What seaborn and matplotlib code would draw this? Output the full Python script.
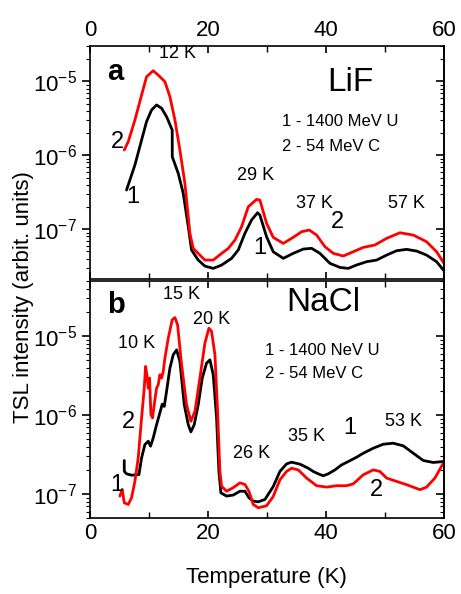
import numpy as np
import pandas as pd
import seaborn as sns
import matplotlib.pyplot as plt
from matplotlib.ticker import LogLocator, NullFormatter, MultipleLocator

# ---- LiF (panel a) ----
lif_t1 = [6.21, 7.63, 8.76, 9.60, 10.45, 11.30, 12.15, 13.00, 13.95, 13.96, 14.97, 15.82, 16.67,
          17.23, 18.36, 19.49, 20.90, 22.32, 24.01, 25.14, 26.27, 27.40, 28.42, 28.81, 29.94,
          31.07, 32.77, 34.46, 36.16, 37.57, 38.98, 40.68, 42.37, 43.79, 45.20, 46.89, 48.59,
          50.28, 51.98, 53.67, 55.37, 57.06, 58.76, 60.0]
lif_i1 = [3.39e-7, 7.40e-7, 1.61e-6, 2.86e-6, 4.11e-6, 4.81e-6, 4.34e-6, 3.33e-6, 2.20e-6, 9.57e-7,
          5.70e-7, 3.05e-7, 1.08e-7, 5.21e-8, 3.81e-8, 3.16e-8, 2.94e-8, 3.26e-8, 4.02e-8, 5.21e-8,
          8.77e-8, 1.33e-7, 1.67e-7, 1.55e-7, 7.89e-8, 4.94e-8, 4.02e-8, 4.70e-8, 5.37e-8, 5.50e-8,
          4.70e-8, 3.44e-8, 3.03e-8, 2.94e-8, 3.27e-8, 3.62e-8, 3.81e-8, 4.45e-8, 5.10e-8, 5.32e-8,
          5.05e-8, 4.45e-8, 3.62e-8, 2.74e-8]
lif_t2 = [5.82, 6.50, 7.63, 8.76, 9.60, 10.73, 11.58, 12.71, 13.56, 14.41, 15.25, 16.10, 16.95,
          17.51, 18.36, 19.49, 20.90, 22.32, 23.45, 24.58, 25.71, 26.84, 28.25, 28.81, 29.94,
          31.07, 32.77, 34.46, 35.88, 37.17, 38.42, 39.83, 41.24, 42.94, 44.63, 46.33, 48.31,
          50.28, 52.54, 54.80, 57.06, 58.76, 60.0]
lif_i2 = [1.18e-6, 1.53e-6, 3.01e-6, 6.56e-6, 1.16e-5, 1.40e-5, 1.22e-5, 9.95e-6, 6.22e-6, 3.01e-6,
          1.18e-6, 4.17e-7, 8.77e-8, 5.48e-8, 4.69e-8, 3.81e-8, 3.81e-8, 4.69e-8, 5.48e-8, 7.11e-8,
          1.08e-7, 2.01e-7, 2.53e-7, 2.48e-7, 1.20e-7, 7.74e-8, 6.41e-8, 7.74e-8, 9.23e-8, 9.73e-8,
          8.32e-8, 5.78e-8, 4.70e-8, 4.33e-8, 4.94e-8, 5.66e-8, 6.10e-8, 7.50e-8, 8.93e-8, 8.32e-8,
          6.75e-8, 4.94e-8, 3.44e-8]

# ---- NaCl (panel b) ----
nacl_t1 = [5.82, 5.83, 6.21, 7.06, 8.31, 8.76, 9.32, 9.89, 10.28, 10.73, 11.30, 11.86, 12.26, 12.60,
           12.99, 13.56, 14.12, 14.69, 15.25, 15.99, 16.67, 17.12, 17.68, 18.36, 19.04, 19.77,
           20.34, 20.90, 21.47, 21.86, 22.20, 23.16, 24.29, 25.42, 26.27, 26.95, 27.68, 28.53,
           29.66, 31.07, 32.20, 33.33, 34.18, 35.59, 37.01, 37.85, 38.70, 39.55, 40.40, 41.53,
           42.66, 43.79, 45.20, 46.33, 48.02, 49.72, 51.41, 53.11, 54.80, 56.50, 58.19, 59.89]
nacl_i1 = [2.67e-7, 1.95e-7, 1.81e-7, 1.74e-7, 1.77e-7, 2.88e-7, 4.25e-7, 4.68e-7, 4.05e-7, 5.15e-7,
           7.59e-7, 1.07e-6, 1.38e-6, 1.29e-6, 2.00e-6, 3.94e-6, 5.81e-6, 6.71e-6, 4.79e-6, 1.36e-6,
           7.59e-7, 6.14e-7, 7.59e-7, 1.36e-6, 2.95e-6, 4.56e-6, 5.02e-6, 3.25e-6, 9.23e-7, 1.95e-7,
           1.04e-7, 9.46e-8, 9.75e-8, 1.09e-7, 1.09e-7, 9.02e-8, 8.17e-8, 8.01e-8, 8.57e-8, 1.25e-7,
           1.94e-7, 2.42e-7, 2.54e-7, 2.40e-7, 2.13e-7, 1.94e-7, 1.81e-7, 1.71e-7, 1.81e-7, 2.03e-7,
           2.35e-7, 2.59e-7, 2.94e-7, 3.30e-7, 3.82e-7, 4.29e-7, 4.42e-7, 4.09e-7, 3.30e-7, 2.67e-7,
           2.52e-7, 2.59e-7]
nacl_t2 = [5.08, 5.48, 5.82, 6.50, 7.06, 7.63, 8.19, 8.76, 9.21, 9.44, 9.66, 9.89, 10.11, 10.34,
           10.62, 10.90, 11.30, 11.58, 11.86, 12.15, 12.43, 12.71, 13.28, 13.95, 14.41, 14.86,
           15.54, 16.38, 17.12, 17.80, 18.64, 19.49, 20.17, 20.62, 21.19, 21.64, 22.03, 22.32,
           23.16, 24.29, 25.42, 26.27, 26.95, 27.68, 28.53, 29.94, 31.07, 32.20, 33.33, 34.18,
           35.31, 36.72, 38.42, 40.11, 41.81, 43.50, 44.63, 46.33, 48.02, 49.15, 50.28, 51.98,
           53.67, 55.93, 57.06, 58.47, 59.89]
nacl_i2 = [9.46e-8, 1.15e-7, 7.78e-8, 7.41e-8, 9.02e-8, 1.46e-7, 2.88e-7, 9.23e-7, 2.20e-6, 4.14e-6,
           3.25e-6, 2.20e-6, 2.95e-6, 1.02e-6, 9.23e-7, 1.36e-6, 2.20e-6, 2.43e-6, 3.25e-6, 2.95e-6,
           3.58e-6, 5.27e-6, 9.44e-6, 1.61e-5, 1.72e-5, 1.39e-5, 4.35e-6, 1.36e-6, 8.37e-7, 1.12e-6,
           2.95e-6, 8.16e-6, 1.26e-5, 1.15e-5, 5.81e-6, 1.12e-6, 1.95e-7, 1.26e-7, 1.09e-7, 1.21e-7,
           1.39e-7, 1.33e-7, 1.09e-7, 7.41e-8, 6.73e-8, 7.14e-8, 9.36e-8, 1.52e-7, 1.94e-7, 2.13e-7,
           2.03e-7, 1.60e-7, 1.28e-7, 1.23e-7, 1.28e-7, 1.28e-7, 1.35e-7, 1.76e-7, 2.03e-7, 1.94e-7,
           1.60e-7, 1.45e-7, 1.32e-7, 1.14e-7, 1.23e-7, 1.60e-7, 2.47e-7]

sns.set_style("ticks")
plt.rcParams['font.family'] = ['Liberation Sans', 'DejaVu Sans']
plt.rcParams['mathtext.fontset'] = 'custom'
plt.rcParams['mathtext.rm'] = 'Liberation Sans'
plt.rcParams['mathtext.it'] = 'Liberation Sans:italic'
plt.rcParams['axes.linewidth'] = 1.2
for k in ['text.color', 'axes.labelcolor', 'axes.edgecolor', 'xtick.color', 'ytick.color']:
    plt.rcParams[k] = 'black'

fig = plt.figure(figsize=(4.61, 5.94), dpi=100)
ax1 = fig.add_axes([0.195, 0.530, 0.768, 0.393])
ax2 = fig.add_axes([0.195, 0.128, 0.768, 0.399])

def draw(ax, t1, i1, t2, i2):
    d1 = pd.DataFrame({"T": t1, "I": i1})
    d2 = pd.DataFrame({"T": t2, "I": i2})
    sns.lineplot(data=d1, x="T", y="I", ax=ax, color="black", lw=2, sort=False, estimator=None)
    sns.lineplot(data=d2, x="T", y="I", ax=ax, color="red", lw=2, sort=False, estimator=None)
    ax.set_yscale("log")
    ax.set_xlim(0, 60)
    ax.xaxis.set_major_locator(MultipleLocator(20))
    ax.xaxis.set_minor_locator(MultipleLocator(10))
    ax.yaxis.set_major_locator(LogLocator(base=10))
    ax.yaxis.set_minor_locator(LogLocator(base=10, subs=np.arange(2, 10)))
    ax.yaxis.set_minor_formatter(NullFormatter())
    ax.set_xlabel("")
    ax.set_ylabel("")
    ax.tick_params(axis="x", which="both", direction="in", top=True, bottom=True, labelsize=16)
    ax.tick_params(axis="x", which="major", length=5, width=1.2)
    ax.tick_params(axis="x", which="minor", length=4, width=1.0)
    ax.tick_params(axis="y", which="both", direction="out", labelsize=16, right=False)
    ax.tick_params(axis="y", which="major", length=6, width=1.2)
    ax.tick_params(axis="y", which="minor", length=3, width=0.8)
    sec = ax.secondary_yaxis("right")
    sec.yaxis.set_major_locator(LogLocator(base=10))
    sec.yaxis.set_minor_locator(LogLocator(base=10, subs=np.arange(2, 10)))
    sec.tick_params(which="both", direction="in", labelright=False)
    sec.tick_params(which="major", length=6, width=1.2)
    sec.tick_params(which="minor", length=3, width=0.8)
    sec.spines["right"].set_linewidth(1.2)

draw(ax1, lif_t1, lif_i1, lif_t2, lif_i2)
draw(ax2, nacl_t1, nacl_i1, nacl_t2, nacl_i2)
ax1.set_ylim(2.1e-8, 3.05e-5)
ax2.set_ylim(5.0e-8, 5.0e-5)
ax1.tick_params(axis="x", labeltop=True, labelbottom=False)
ax2.tick_params(axis="x", labeltop=False, labelbottom=True)

tr1 = ax1.get_xaxis_transform()
tr2 = ax2.get_xaxis_transform()

# panel a labels
ax1.text(0.048, 0.887, "a", transform=ax1.transAxes, fontsize=21, fontweight="bold", va="center")
ax1.text(44.1, 0.844, "LiF", transform=tr1, fontsize=24, ha="center", va="center")
ax1.text(32.5, 0.675, "1 - 1400 MeV U", transform=tr1, fontsize=12, va="center")
ax1.text(32.5, 0.567, "2 - 54 MeV C", transform=tr1, fontsize=12, va="center")
for t, y, s in [(14.9, 0.968, "12 K"), (28.0, 0.446, "29 K"), (38.1, 0.326, "37 K"), (53.7, 0.326, "57 K")]:
    ax1.text(t, y, s, transform=tr1, fontsize=13, ha="center", va="center")
for t, y, s in [(4.6, 0.589, "2"), (7.3, 0.353, "1"), (28.8, 0.134, "1"), (42.0, 0.245, "2")]:
    ax1.text(t, y, s, transform=tr1, fontsize=17, ha="center", va="center")

# panel b labels
ax2.text(0.048, 0.899, "b", transform=ax2.transAxes, fontsize=21, fontweight="bold", va="center")
ax2.text(39.5, 0.911, "NaCl", transform=tr2, fontsize=24, ha="center", va="center")
ax2.text(29.6, 0.708, "1 - 1400 NeV U", transform=tr2, fontsize=12, va="center")
ax2.text(29.6, 0.610, "2 - 54 MeV C", transform=tr2, fontsize=12, va="center")
for t, y, s in [(15.5, 0.941, "15 K"), (20.6, 0.836, "20 K"), (7.9, 0.738, "10 K"),
                (27.4, 0.274, "26 K"), (36.7, 0.343, "35 K"), (53.1, 0.406, "53 K")]:
    ax2.text(t, y, s, transform=tr2, fontsize=13, ha="center", va="center")
for t, y, s in [(6.5, 0.407, "2"), (4.6, 0.140, "1"), (44.1, 0.378, "1"), (48.6, 0.118, "2")]:
    ax2.text(t, y, s, transform=tr2, fontsize=17, ha="center", va="center")

fig.text(0.050, 0.50, "TSL intensity (arbit. units)", rotation=90, fontsize=16, ha="center", va="center")
fig.text(0.577, 0.027, "Temperature (K)", fontsize=16, ha="center", va="center")

fig.savefig("out.png", dpi=100)
